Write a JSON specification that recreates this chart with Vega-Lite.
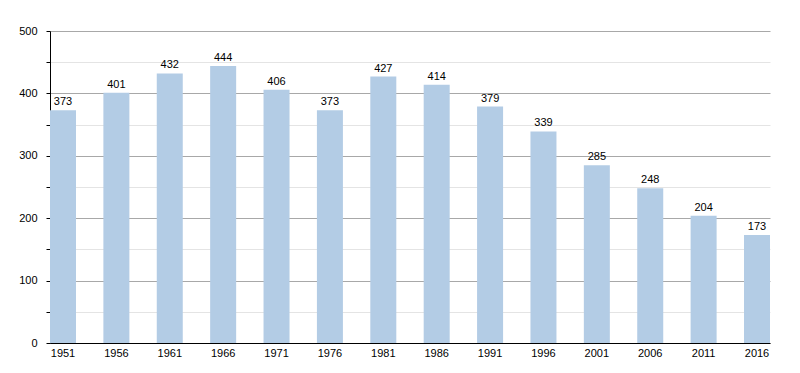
{
  "$schema": "https://vega.github.io/schema/vega-lite/v6.json",
  "autosize": {"type": "none"},
  "width": 720,
  "height": 312,
  "padding": {"left": 50, "top": 31, "right": 30, "bottom": 30},
  "background": "white",
  "config": {
    "view": {"stroke": null},
    "font": "Liberation Sans",
    "axis": {"labelFont": "Liberation Sans", "labelFontSize": 11, "labelColor": "#000"}
  },
  "data": {
    "values": [
      {"year": "1951", "pop": 373},
      {"year": "1956", "pop": 401},
      {"year": "1961", "pop": 432},
      {"year": "1966", "pop": 444},
      {"year": "1971", "pop": 406},
      {"year": "1976", "pop": 373},
      {"year": "1981", "pop": 427},
      {"year": "1986", "pop": 414},
      {"year": "1991", "pop": 379},
      {"year": "1996", "pop": 339},
      {"year": "2001", "pop": 285},
      {"year": "2006", "pop": 248},
      {"year": "2011", "pop": 204},
      {"year": "2016", "pop": 173}
    ]
  },
  "encoding": {
    "x": {
      "field": "year", "type": "nominal", "sort": null,
      "scale": {"paddingInner": 0.513, "paddingOuter": 0},
      "axis": {
        "title": null, "labelAngle": 0, "ticks": false, "domainColor": "#000",
        "domainWidth": 1, "labelPadding": 4, "grid": false
      }
    },
    "y": {
      "field": "pop", "type": "quantitative",
      "scale": {"domain": [0, 500], "nice": false},
      "axis": {
        "title": null,
        "values": [0, 50, 100, 150, 200, 250, 300, 350, 400, 450, 500],
        "labelExpr": "datum.value % 100 == 0 ? datum.label : ''",
        "domainColor": "#000", "tickColor": "#000", "tickSize": 4, "labelPadding": 9,
        "grid": true,
        "gridColor": {"condition": {"test": "datum.value % 100 == 0", "value": "#a8a8a8"}, "value": "#e4e4e4"},
        "gridWidth": 1
      }
    }
  },
  "layer": [
    {"mark": {"type": "bar", "color": "#b3cce5"}},
    {
      "mark": {"type": "text", "dy": -8, "fontSize": 11, "color": "#000", "font": "Liberation Sans"},
      "encoding": {"text": {"field": "pop", "type": "quantitative"}}
    }
  ]
}
